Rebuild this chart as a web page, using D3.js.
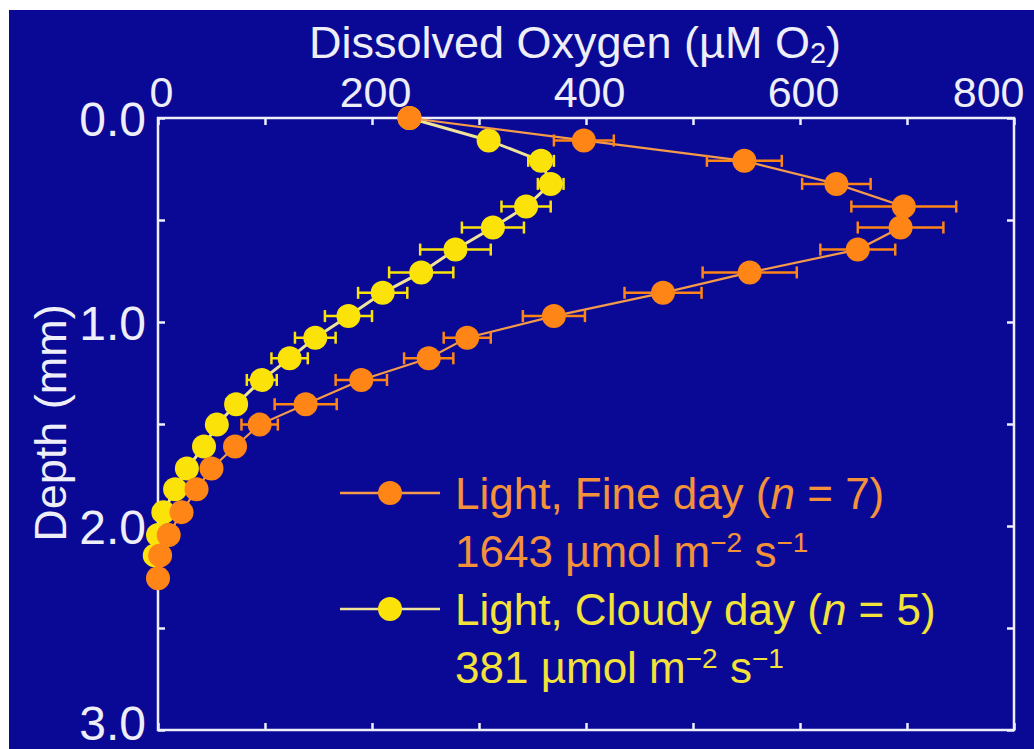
<!DOCTYPE html>
<html>
<head>
<meta charset="utf-8">
<script src="https://cdn.jsdelivr.net/npm/d3@7"></script>
<style>
  html, body { margin: 0; padding: 0; background: #ffffff; }
  svg { display: block; }
</style>
</head>
<body>
<svg id="chart" width="1034" height="749"></svg>
<script>
// Sampling depths below the surface (mm)
const depths = [0, 0.11, 0.21, 0.323, 0.434, 0.537, 0.645, 0.757, 0.857, 0.971, 1.077,
                1.178, 1.284, 1.403, 1.503, 1.61, 1.718, 1.82, 1.932, 2.044, 2.144, 2.256];

// Fine day profile (µM O2) with standard errors
const fineDay = [235, 398, 548, 634, 697, 694, 654, 553, 472, 370, 289,
                 253, 190, 138, 95, 72, 50, 36, 22, 10, 2, 0];
const fineErr = [0, 28, 35, 32, 49, 40, 35, 44, 36, 29, 22,
                 23, 24, 29, 17, 6, 5, 4, 3, 2, 2, 2];

// Cloudy day profile (µM O2) with standard errors
const cloudyDay = [235, 309, 358, 367, 344, 313, 278, 246, 210, 178, 147,
                   123, 97, 73, 55, 43, 27, 16, 5, 0, -3];
const cloudyErr = [0, 6, 12, 12, 23, 29, 33, 30, 23, 22, 19,
                   17, 14, 9, 7, 5, 4, 3, 2, 2, 2];

const xTickValues = [0, 100, 200, 300, 400, 500, 600, 700, 800];
const xTickLabels = ["0", "200", "400", "600", "800"];
const yTickValues = [0, 0.5, 1, 1.5, 2, 2.5, 3];
const yTickLabels = ["0.0", "1.0", "2.0", "3.0"];

const W = 1034, H = 749;
const FONT = "'Liberation Sans', Arial, Helvetica, sans-serif";
const BG = "#0a0996";
const AXIS = "#eeeef8";
const ORANGE = "#ff8516";
const ORANGE_LINE = "#f49a4a";
const YELLOW = "#fbe30a";
const YELLOW_LINE = "#efe39a";

const svg = d3.select("#chart");

// page margin and panel background
svg.append("rect").attr("x", 0).attr("y", 0).attr("width", W).attr("height", H).attr("fill", "#ffffff");
svg.append("rect").attr("x", 9).attr("y", 10).attr("width", W - 9).attr("height", H - 10).attr("fill", BG);

const x = d3.scaleLinear().domain([0, 800]).range([158, 1014]);
const y = d3.scaleLinear().domain([0, 3]).range([118, 730]);

const tickLen = 7;

// top axis with labels
const gTop = svg.append("g").attr("transform", `translate(0,${y(0)})`)
  .call(d3.axisTop(x).tickValues(xTickValues).tickSize(-tickLen).tickPadding(11)
    .tickFormat(d => (d % 200 === 0 ? xTickLabels[d / 200] : "")));
// bottom axis, ticks only
const gBottom = svg.append("g").attr("transform", `translate(0,${y(3)})`)
  .call(d3.axisBottom(x).tickValues(xTickValues).tickSize(-tickLen).tickFormat(""));
// left axis with labels
const gLeft = svg.append("g").attr("transform", `translate(${x(0)},0)`)
  .call(d3.axisLeft(y).tickValues(yTickValues).tickSize(-tickLen).tickPadding(12)
    .tickFormat(d => (Number.isInteger(d) ? yTickLabels[d] : "")));
// right axis, ticks only
const gRight = svg.append("g").attr("transform", `translate(${x(800)},0)`)
  .call(d3.axisRight(y).tickValues(yTickValues).tickSize(-tickLen).tickFormat(""));

[gTop, gBottom, gLeft, gRight].forEach(g => {
  g.select(".domain").remove();
  g.selectAll(".tick line").attr("stroke", AXIS).attr("stroke-width", 2.5);
  g.selectAll(".tick text").attr("fill", AXIS).attr("font-family", FONT);
});
gTop.selectAll(".tick text").attr("font-size", 43).attr("dx", 3);
// keep the last label inside the panel
gTop.selectAll(".tick").filter(d => d === 800).select("text")
  .attr("text-anchor", "end").attr("dx", 10);
gLeft.selectAll(".tick text").attr("font-size", 48).attr("dy", "0.36em");
// the bottom label sits a little above its tick so it stays on the page
gLeft.selectAll(".tick").filter(d => d === 3).select("text").attr("y", -8);

// plot frame
svg.append("rect")
  .attr("x", x(0)).attr("y", y(0))
  .attr("width", x(800) - x(0)).attr("height", y(3) - y(0))
  .attr("fill", "none").attr("stroke", AXIS).attr("stroke-width", 2.5);

// axis titles
const title = svg.append("text")
  .attr("x", 575).attr("y", 58)
  .attr("text-anchor", "middle")
  .attr("font-family", FONT).attr("font-size", 45).attr("fill", AXIS);
title.append("tspan").text("Dissolved Oxygen (\u00B5M O");
title.append("tspan").attr("font-size", 29).attr("dy", 5).text("2");
title.append("tspan").attr("dy", -5).text(")");

svg.append("text")
  .attr("transform", `translate(66,423) rotate(-90)`)
  .attr("text-anchor", "middle")
  .attr("font-family", FONT).attr("font-size", 45).attr("fill", AXIS)
  .text("Depth (mm)");

// draws one depth profile: connecting line, error bars, then markers
function drawProfile(values, errs, fill, lineColor, lineWidth) {
  const pts = values.map((v, i) => ({ v, e: errs[i], d: depths[i] }));
  const g = svg.append("g");
  g.append("path")
    .datum(pts)
    .attr("fill", "none")
    .attr("stroke", lineColor)
    .attr("stroke-width", lineWidth)
    .attr("d", d3.line().x(p => x(p.v)).y(p => y(p.d)));

  const cap = 6;
  const eb = g.selectAll("g.err").data(pts.filter(p => p.e > 0)).join("g").attr("class", "err");
  eb.append("line")
    .attr("x1", p => x(p.v - p.e)).attr("x2", p => x(p.v + p.e))
    .attr("y1", p => y(p.d)).attr("y2", p => y(p.d))
    .attr("stroke", fill).attr("stroke-width", 2.5);
  eb.append("line")
    .attr("x1", p => x(p.v - p.e)).attr("x2", p => x(p.v - p.e))
    .attr("y1", p => y(p.d) - cap).attr("y2", p => y(p.d) + cap)
    .attr("stroke", fill).attr("stroke-width", 2.5);
  eb.append("line")
    .attr("x1", p => x(p.v + p.e)).attr("x2", p => x(p.v + p.e))
    .attr("y1", p => y(p.d) - cap).attr("y2", p => y(p.d) + cap)
    .attr("stroke", fill).attr("stroke-width", 2.5);

  g.selectAll("circle").data(pts).join("circle")
    .attr("cx", p => x(p.v)).attr("cy", p => y(p.d))
    .attr("r", 12)
    .attr("fill", fill);
}

drawProfile(cloudyDay, cloudyErr, YELLOW, YELLOW_LINE, 3);
drawProfile(fineDay, fineErr, ORANGE, ORANGE_LINE, 2.2);

// legend
const legendRows = [
  { color: ORANGE, line: ORANGE_LINE, text: "#f4923a", y: 493, label: ["Light, Fine day (", "n", " = 7)"], light: "1643" },
  { color: YELLOW, line: YELLOW_LINE, text: "#f3e23a", y: 609, label: ["Light, Cloudy day (", "n", " = 5)"], light: "381" }
];
legendRows.forEach(r => {
  svg.append("line").attr("x1", 340).attr("x2", 440).attr("y1", r.y).attr("y2", r.y)
    .attr("stroke", r.line).attr("stroke-width", 2.5);
  svg.append("circle").attr("cx", 390).attr("cy", r.y).attr("r", 12).attr("fill", r.color);

  const t1 = svg.append("text").attr("x", 455).attr("y", r.y + 16)
    .attr("font-family", FONT).attr("font-size", 44).attr("fill", r.text);
  t1.append("tspan").text(r.label[0]);
  t1.append("tspan").attr("font-style", "italic").text(r.label[1]);
  t1.append("tspan").text(r.label[2]);

  const t2 = svg.append("text").attr("x", 455).attr("y", r.y + 74)
    .attr("font-family", FONT).attr("font-size", 44).attr("fill", r.text);
  t2.append("tspan").text(r.light + " \u00B5mol m");
  t2.append("tspan").attr("font-size", 28).attr("dy", -15).text("\u22122");
  t2.append("tspan").attr("dy", 15).text(" s");
  t2.append("tspan").attr("font-size", 28).attr("dy", -15).text("\u22121");
});
</script>
</body>
</html>
